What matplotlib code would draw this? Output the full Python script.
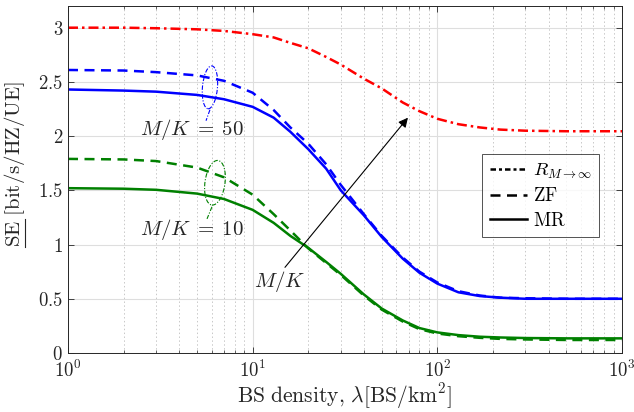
import numpy as np
import matplotlib
matplotlib.use("Agg")
import matplotlib.pyplot as plt
from matplotlib.patches import Ellipse
from matplotlib.lines import Line2D
from matplotlib.transforms import ScaledTranslation
from matplotlib.ticker import FixedLocator, FuncFormatter, LogLocator, NullFormatter

plt.rcParams['mathtext.fontset'] = 'cm'
plt.rcParams['font.family'] = ['cmr10', 'DejaVu Serif']
plt.rcParams['axes.formatter.use_mathtext'] = True

# ---- data ----
density = [1, 2, 3, 5, 7, 10, 13, 16, 20, 25, 30, 40, 50, 65, 80, 100, 130, 170, 220, 300, 500, 1000]
se_limit = [3.00, 3.00, 2.995, 2.985, 2.97, 2.94, 2.91, 2.86, 2.81, 2.73, 2.66, 2.53, 2.44, 2.31, 2.23, 2.16,
            2.11, 2.08, 2.06, 2.05, 2.045, 2.045]
se_zf_50 = [2.61, 2.605, 2.59, 2.56, 2.51, 2.40, 2.24, 2.08, 1.93, 1.74, 1.55, 1.28, 1.08, 0.88, 0.75, 0.65,
            0.57, 0.53, 0.51, 0.505, 0.50, 0.50]
se_mr_50 = [2.43, 2.42, 2.41, 2.38, 2.34, 2.27, 2.17, 2.04, 1.88, 1.70, 1.50, 1.27, 1.07, 0.87, 0.74, 0.64,
            0.56, 0.525, 0.51, 0.50, 0.50, 0.50]
se_zf_10 = [1.79, 1.785, 1.77, 1.71, 1.62, 1.46, 1.28, 1.13, 0.965, 0.83, 0.72, 0.53, 0.40, 0.29, 0.22, 0.18,
            0.155, 0.14, 0.13, 0.125, 0.12, 0.12]
se_mr_10 = [1.52, 1.515, 1.505, 1.47, 1.42, 1.32, 1.20, 1.08, 0.97, 0.84, 0.73, 0.54, 0.41, 0.30, 0.23, 0.19,
            0.165, 0.15, 0.143, 0.138, 0.135, 0.135]
legend_labels = [r'$R_{M\rightarrow\infty}$', r'$\mathrm{ZF}$', r'$\mathrm{MR}$']
y_ticks = [0, 0.5, 1, 1.5, 2, 2.5, 3]

fig = plt.figure(figsize=(6.34, 4.12), dpi=100)
ax = fig.add_axes([68/634, 1-353/412, (622-68)/634, (353-6)/412])

lw = 1.8
ax.plot(density, se_limit, color='#ff0000', lw=lw, dashes=(4, 1.6, 1, 1.6))
ax.plot(density, se_zf_50, color='#0000ff', lw=lw, dashes=(4, 2.6))
ax.plot(density, se_mr_50, color='#0000ff', lw=lw)
ax.plot(density, se_zf_10, color='#008000', lw=lw, dashes=(4, 2.6))
ax.plot(density, se_mr_10, color='#008000', lw=lw)

ax.set_xscale('log')
ax.set_xlim(1, 1000)
ax.set_ylim(0, 3.2)
ax.yaxis.set_major_locator(FixedLocator(y_ticks))
ax.yaxis.set_major_formatter(FuncFormatter(lambda v, p: r'$%g$' % v))
ax.xaxis.set_major_locator(LogLocator(base=10, numticks=10))
ax.xaxis.set_minor_locator(LogLocator(base=10, subs=np.arange(2, 10), numticks=20))
ax.xaxis.set_minor_formatter(NullFormatter())

ax.grid(True, which='major', color='#dedede', lw=0.8, ls='-')
ax.grid(True, which='minor', axis='x', color='#c8c8c8', lw=0.7, ls=(0, (1.5, 2.5)))
ax.set_axisbelow(True)
ax.tick_params(which='both', direction='in', top=True, right=True, colors='#262626', labelcolor='#262626',
               labelsize=13.5)
ax.tick_params(which='major', length=4, width=0.6)
ax.tick_params(which='minor', length=2.5, width=0.5)
ax.tick_params(axis='x', which='major', pad=5)
for s in ax.spines.values():
    s.set_color('#262626')
    s.set_linewidth(0.7)

ylab_fs = 15
ax.set_xlabel(r'$\mathrm{BS\ density},\,\lambda[\mathrm{BS/km}^2]$', fontsize=15.5, color='#262626', labelpad=0)
ylab = ax.set_ylabel(r'$\mathrm{SE}\ [\mathrm{bit/s/HZ/UE}]$', fontsize=ylab_fs, color='#262626')
ax.yaxis.set_label_coords((27-68)/554, (353-163.5)/347)

# legend
handles = [Line2D([], [], color='k', lw=lw, dashes=(2.2, 1.2, 1.2, 1.2)),
           Line2D([], [], color='k', lw=lw, dashes=(4, 2.6)),
           Line2D([], [], color='k', lw=lw)]
leg = ax.legend(handles, legend_labels, loc='upper left', bbox_to_anchor=((482-68)/554, (353-154)/347),
                fontsize=13.5, frameon=True, fancybox=False, edgecolor='#262626', handlelength=2.0,
                handletextpad=0.3, borderpad=0.4, labelspacing=0.35, borderaxespad=0)
leg.get_frame().set_linewidth(0.7)

# annotations
def ell(xc, yc, w_px, h_px, color, angle=0):
    tr = fig.dpi_scale_trans + ScaledTranslation(xc, yc, ax.transData)
    e = Ellipse((0, 0), w_px/100, h_px/100, angle=angle, fill=False, edgecolor=color, lw=0.8,
                ls=(0, (4, 1.5, 1, 1.5)), transform=tr)
    ax.add_patch(e)

ell(5.87, 2.45, 15, 43, '#0000ff', angle=-5)
ell(6.25, 1.57, 20, 45, '#008000', angle=-8)
ax.plot([5.87, 5.59], [2.243, 2.142], color='#0000ff', lw=0.8, ls=(0, (4, 1.5, 1, 1.5)))
ax.plot([6.02, 5.66], [1.348, 1.237], color='#008000', lw=0.8, ls=(0, (4, 1.5, 1, 1.5)))
ax.text(4.72, 2.06, r'$M/K\;=\;50$', fontsize=15, ha='center', va='center', color='#262626')
ax.text(4.72, 1.135, r'$M/K\;=\;10$', fontsize=15, ha='center', va='center', color='#262626')
ax.text(14.06, 0.655, r'$M/K$', fontsize=15, ha='center', va='center', color='#262626')
ax.annotate('', xy=(69.3, 2.17), xytext=(14.96, 0.79),
            arrowprops=dict(arrowstyle='-|>', color='k', lw=0.8, mutation_scale=14, shrinkA=0, shrinkB=0))

# underline under "SE" in the y label
fig.canvas.draw()
r = fig.canvas.get_renderer()
bb = ylab.get_window_extent(r)
tmp = fig.text(0, 0, r'$\mathrm{SE}$', fontsize=ylab_fs)
wse = tmp.get_window_extent(r).width
tmp.remove()
H = fig.bbox.height
W = fig.bbox.width
xl = (bb.x1 - 2.5) / W
fig.add_artist(Line2D([xl, xl], [bb.y0 / H, (bb.y0 + wse) / H], color='#262626', lw=0.8,
                      transform=fig.transFigure))

fig.savefig('out.png', dpi=100)
